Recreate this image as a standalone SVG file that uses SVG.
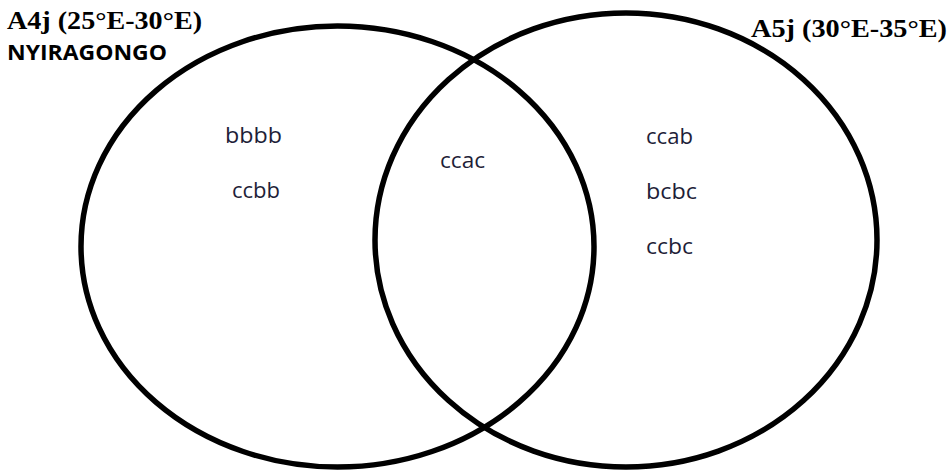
<svg xmlns="http://www.w3.org/2000/svg" width="948" height="472" viewBox="0 0 948 472">
  <style>
    .set { fill: none; stroke: #000; stroke-width: 5.5; }
    .title { font-family: "Liberation Serif", "Times New Roman", serif; font-weight: bold; font-size: 26px; fill: #000; }
    .name { font-family: "Open Sans", "Liberation Sans", sans-serif; font-weight: bold; font-size: 21px; fill: #000; }
    .code { font-family: "Open Sans", "Liberation Sans", sans-serif; font-size: 21.5px; fill: #1e1e38; }
  </style>
  <rect width="948" height="472" fill="#fff"/>

  <g id="set-a4j">
    <ellipse class="set" cx="337.5" cy="246.5" rx="256.5" ry="220.5"/>
    <text class="title" x="7" y="29" textLength="195" lengthAdjust="spacingAndGlyphs">A4j (25°E-30°E)</text>
    <text class="name" x="7" y="60" textLength="160" lengthAdjust="spacingAndGlyphs">NYIRAGONGO</text>
    <text class="code" x="225" y="143" textLength="57" lengthAdjust="spacingAndGlyphs">bbbb</text>
    <text class="code" x="232" y="198" textLength="48" lengthAdjust="spacingAndGlyphs">ccbb</text>
  </g>

  <g id="set-a5j">
    <ellipse class="set" cx="626" cy="240" rx="251" ry="227"/>
    <text class="title" x="751" y="37" textLength="196" lengthAdjust="spacingAndGlyphs">A5j (30°E-35°E)</text>
    <text class="code" x="646" y="144" textLength="47" lengthAdjust="spacingAndGlyphs">ccab</text>
    <text class="code" x="646" y="199" textLength="51" lengthAdjust="spacingAndGlyphs">bcbc</text>
    <text class="code" x="646" y="254" textLength="47" lengthAdjust="spacingAndGlyphs">ccbc</text>
  </g>

  <g id="overlap">
    <text class="code" x="440" y="168" textLength="45" lengthAdjust="spacingAndGlyphs">ccac</text>
  </g>
</svg>
